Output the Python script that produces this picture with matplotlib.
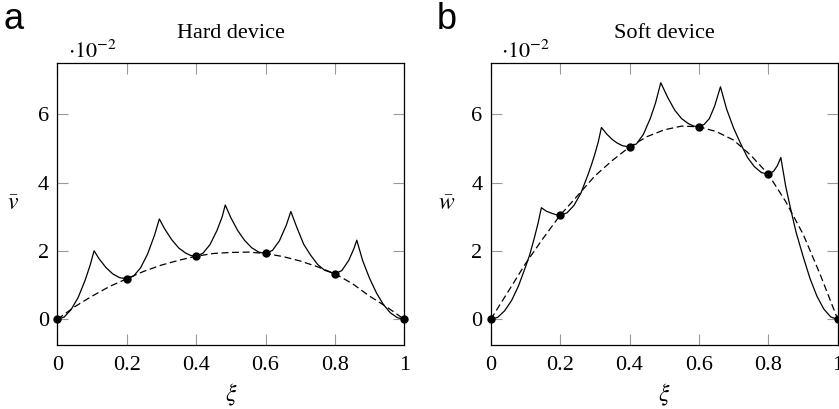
import matplotlib
matplotlib.use('Agg')
import matplotlib.pyplot as plt

plt.rcParams['font.family'] = ['Liberation Serif', 'DejaVu Serif']
plt.rcParams['mathtext.fontset'] = 'stix'
plt.rcParams['lines.scale_dashes'] = False

# values are in units of 1e-2
xticks = [0, 0.2, 0.4, 0.6, 0.8, 1]
xtick_labels = ['0', '0.2', '0.4', '0.6', '0.8', '1']
yticks = [0, 2, 4, 6]

# hard device
hard_xi = [0, 0.02, 0.04, 0.06, 0.08, 0.095, 0.106,
           0.12, 0.14, 0.16, 0.18, 0.2,
           0.22, 0.24, 0.26, 0.28, 0.294,
           0.31, 0.33, 0.35, 0.37, 0.385, 0.4,
           0.42, 0.44, 0.46, 0.475, 0.484,
           0.5, 0.52, 0.54, 0.56, 0.58, 0.6,
           0.62, 0.64, 0.66, 0.673,
           0.69, 0.71, 0.73, 0.75, 0.77, 0.8,
           0.82, 0.84, 0.855, 0.863,
           0.88, 0.9, 0.92, 0.94, 0.96, 0.98, 1.0]
hard_v = [0, 0.07, 0.29, 0.64, 1.14, 1.6, 2.01,
          1.78, 1.52, 1.33, 1.22, 1.19,
          1.27, 1.51, 1.91, 2.46, 2.94,
          2.64, 2.33, 2.09, 1.94, 1.87, 1.85,
          1.94, 2.19, 2.6, 3.0, 3.35,
          2.98, 2.6, 2.31, 2.1, 1.97, 1.93,
          2.02, 2.3, 2.76, 3.16,
          2.7, 2.2, 1.88, 1.61, 1.44, 1.335,
          1.43, 1.73, 2.08, 2.32,
          1.72, 1.2, 0.77, 0.43, 0.19, 0.05, 0]
hard_mean_xi = [0, 0.05, 0.1, 0.15, 0.2, 0.25, 0.3, 0.35, 0.4, 0.45, 0.5,
                0.55, 0.6, 0.65, 0.7, 0.75, 0.8, 0.85, 0.9, 0.95, 1.0]
hard_mean_v = [0, 0.37, 0.68, 0.96, 1.19, 1.41, 1.59, 1.73, 1.85, 1.93, 1.96,
               1.97, 1.93, 1.84, 1.71, 1.54, 1.335, 1.05, 0.68, 0.36, 0]

# soft device
soft_xi = [0, 0.02, 0.04, 0.06, 0.08, 0.1, 0.112, 0.125, 0.136, 0.146,
           0.16, 0.175, 0.19, 0.2,
           0.22, 0.24, 0.26, 0.28, 0.29, 0.3, 0.31, 0.319,
           0.335, 0.35, 0.365, 0.38, 0.4,
           0.42, 0.44, 0.46, 0.475, 0.49,
           0.51, 0.53, 0.55, 0.57, 0.585, 0.6,
           0.615, 0.63, 0.645, 0.662,
           0.68, 0.7, 0.72, 0.74, 0.76, 0.78, 0.8,
           0.815, 0.826, 0.836,
           0.85, 0.865, 0.88, 0.9, 0.92, 0.94, 0.96, 0.98, 1.0]
soft_w = [0, 0.06, 0.25, 0.55, 0.98, 1.53, 1.88, 2.36, 2.8, 3.27,
          3.17, 3.11, 3.06, 3.05,
          3.12, 3.34, 3.7, 4.23, 4.52, 4.84, 5.2, 5.62,
          5.42, 5.27, 5.16, 5.085, 5.05,
          5.14, 5.42, 5.89, 6.34, 6.93,
          6.5, 6.13, 5.88, 5.73, 5.66, 5.64,
          5.71, 5.88, 6.24, 6.81,
          6.15, 5.6, 5.15, 4.74, 4.47, 4.3, 4.25,
          4.335, 4.5, 4.74,
          3.9, 3.2, 2.55, 1.85, 1.2, 0.68, 0.3, 0.07, 0]
soft_mean_xi = [0, 0.05, 0.1, 0.15, 0.2, 0.25, 0.3, 0.35, 0.4, 0.45, 0.5,
                0.55, 0.6, 0.65, 0.7, 0.75, 0.8, 0.85, 0.9, 0.95, 1.0]
soft_mean_w = [0, 0.81, 1.63, 2.36, 3.05, 3.62, 4.2, 4.65, 5.05, 5.35, 5.55,
               5.66, 5.64, 5.5, 5.25, 4.8, 4.25, 3.45, 2.5, 1.3, 0]

dot_xi = [0, 0.2, 0.4, 0.6, 0.8, 1.0]
hard_dot_v = [0, 1.19, 1.85, 1.93, 1.335, 0]
soft_dot_w = [0, 3.05, 5.05, 5.64, 4.25, 0]

fig = plt.figure(figsize=(8.39, 4.09), dpi=100)
ax1 = fig.add_axes([0.0683, 0.1565, 0.4136, 0.6888])
ax2 = fig.add_axes([0.5849, 0.1565, 0.4136, 0.6888])

panels = [
    (ax1, hard_xi, hard_v, hard_mean_xi, hard_mean_v, hard_dot_v, r'$\bar{v}$', 'Hard device', 'a'),
    (ax2, soft_xi, soft_w, soft_mean_xi, soft_mean_w, soft_dot_w, r'$\bar{w}$', 'Soft device', 'b'),
]

for ax, xs, ys, mx, my, dots, ylab, title, letter in panels:
    ax.plot(mx, my, color='k', lw=0.9, linestyle=(0, (5, 2.6)))
    ax.plot(xs, ys, color='k', lw=0.9)
    ax.plot(dot_xi, dots, 'o', color='k', markersize=5, clip_on=False, zorder=5)
    ax.set_xlim(0, 1)
    ax.set_ylim(-0.75, 7.5)
    ax.set_xticks(xticks)
    ax.set_xticklabels(xtick_labels)
    ax.set_yticks(yticks)
    ax.tick_params(direction='in', length=8, width=0.8, color='#999999',
                   top=True, right=True, labelsize=16)
    ax.tick_params(axis='x', pad=8)
    ax.tick_params(axis='y', pad=6)
    for sp in ax.spines.values():
        sp.set_linewidth(0.9)
    ax.set_xlabel(r'$\xi$', fontsize=17, labelpad=5)
    ax.set_ylabel(ylab, fontsize=17, rotation=0, labelpad=18, va='center')
    ax.set_title(title, fontsize=16, pad=18)
    ax.text(0.03, 1.02, r'$\cdot 10^{-2}$', transform=ax.transAxes, fontsize=16)
    ax.text(-0.155, 1.122, letter, transform=ax.transAxes, fontsize=26,
            family='Liberation Sans')

fig.savefig('out.png', dpi=100)
